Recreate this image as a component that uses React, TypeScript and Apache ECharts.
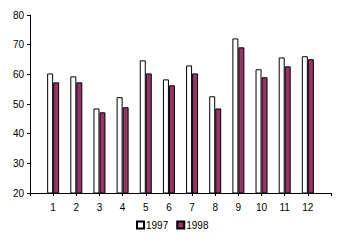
import React, { useEffect, useRef } from "react";
import * as echarts from "echarts";

const months = ["1", "2", "3", "4", "5", "6", "7", "8", "9", "10", "11", "12"];
const series1997 = [60.3, 59.3, 48.5, 52.3, 64.7, 58.3, 63.0, 52.6, 72.1, 61.7, 65.7, 66.1];
const series1998 = [57.3, 57.3, 47.2, 48.9, 60.3, 56.3, 60.3, 48.5, 69.1, 59.0, 62.7, 65.1];

export default function App() {
  const ref = useRef<HTMLDivElement>(null);
  useEffect(() => {
    const chart = echarts.init(ref.current!, null, { renderer: "svg" });
    const font = "Liberation Sans, Arial, sans-serif";
    chart.setOption({
      animation: false,
      textStyle: { fontFamily: font },
      grid: { left: 30, right: 13, top: 15, bottom: 50 },
      legend: {
        bottom: 8,
        left: 131,
        icon: "rect",
        itemWidth: 7,
        itemHeight: 7,
        itemGap: 8,
        textStyle: { fontSize: 10, color: "#000", fontFamily: font, padding: [0, 0, 0, -3] },
        data: ["1997", "1998"],
      },
      xAxis: {
        type: "value",
        min: 0,
        max: months.length + 1,
        interval: 1,
        splitLine: { show: false },
        axisLine: { lineStyle: { color: "#000", width: 1 } },
        axisTick: { length: 3, lineStyle: { color: "#000" } },
        axisLabel: {
          fontSize: 10,
          color: "#000",
          margin: 9,
          formatter: (v: number) => (v >= 1 && v <= months.length ? months[v - 1] : ""),
        },
      },
      yAxis: {
        type: "value",
        min: 20,
        max: 80,
        interval: 10,
        splitLine: { show: false },
        axisLine: { show: true, lineStyle: { color: "#000", width: 1 } },
        axisTick: { show: true, length: 3, lineStyle: { color: "#000" } },
        axisLabel: { fontSize: 10, color: "#000", margin: 6 },
      },
      series: [
        {
          name: "1997",
          type: "bar",
          barWidth: 6,
          barGap: "0%",
          data: series1997.map((v, i) => [i + 1, v]),
          itemStyle: { color: "#ffffff", borderColor: "#000", borderWidth: 1 },
        },
        {
          name: "1998",
          type: "bar",
          barWidth: 6,
          barGap: "0%",
          data: series1998.map((v, i) => [i + 1, v]),
          itemStyle: { color: "#993366", borderColor: "#000", borderWidth: 1 },
        },
      ],
    });
    return () => chart.dispose();
  }, []);
  return <div ref={ref} style={{ width: 344, height: 243, margin: -8 }} />;
}
